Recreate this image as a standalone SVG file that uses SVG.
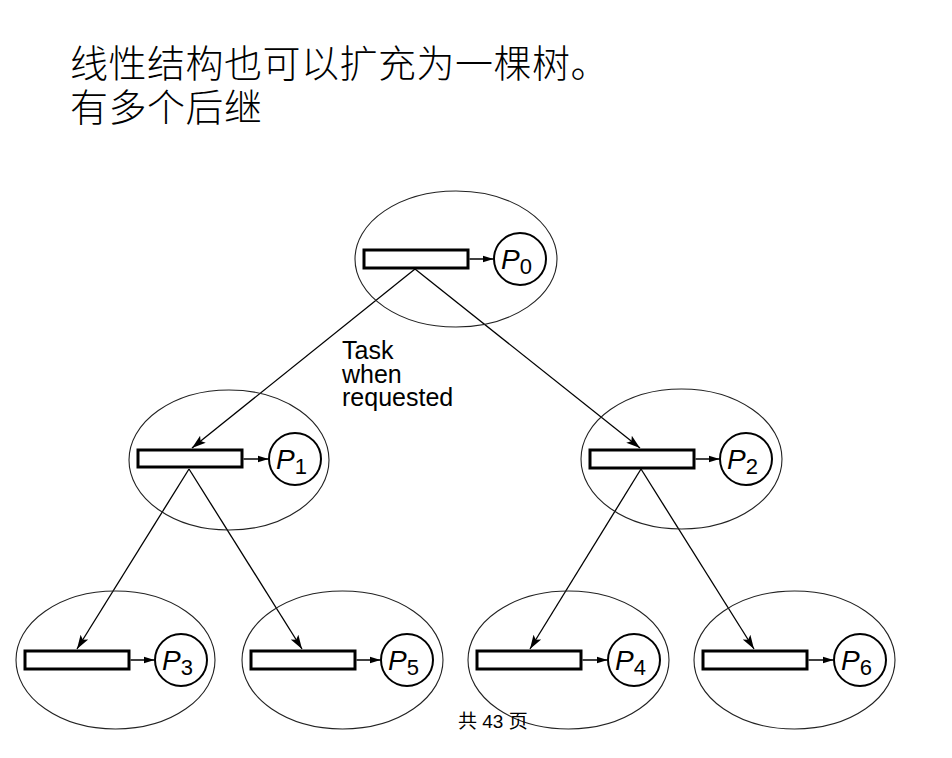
<svg xmlns="http://www.w3.org/2000/svg" width="952" height="758" viewBox="0 0 952 758">
<defs>
<marker id="ah" markerUnits="userSpaceOnUse" markerWidth="16" markerHeight="12" refX="14" refY="6" orient="auto">
<path d="M0,1.5 L14,6 L0,10.5 L3,6 Z" fill="#000"/>
</marker>
<marker id="sh" markerUnits="userSpaceOnUse" markerWidth="12" markerHeight="10" refX="11" refY="5" orient="auto">
<path d="M0,1.5 L11,5 L0,8.5 Z" fill="#000"/>
</marker>
<style>
.ell{fill:none;stroke:#222;stroke-width:1.1}
.box{fill:#fff;stroke:#000;stroke-width:3}
.pc{fill:#fff;stroke:#000;stroke-width:2}
.sa{stroke:#000;stroke-width:1.5;marker-end:url(#sh)}
.lbl{font-family:"Liberation Sans",Arial,sans-serif;font-size:28px;fill:#000}
.lbl .p{font-style:italic}
.lbl .s{font-size:22px}
.edge{stroke:#000;stroke-width:1.3;fill:none;marker-end:url(#ah)}
.cn{font-family:"Noto Sans CJK SC",sans-serif;font-size:38px;font-weight:300;letter-spacing:0.5px;fill:#000}
.tk{font-family:"Liberation Sans",Arial,sans-serif;font-size:25px;fill:#000}
</style>
</defs>
<rect width="952" height="758" fill="#fff"/>
<text class="cn" x="70" y="77">线性结构也可以扩充为一棵树。</text>
<text class="cn" x="70" y="121">有多个后继</text>

<g id="connectors">
<line class="edge" x1="415" y1="269" x2="192" y2="448"/>
<line class="edge" x1="415" y1="269" x2="640" y2="448"/>
<line class="edge" x1="189" y1="469" x2="77" y2="649"/>
<line class="edge" x1="189" y1="469" x2="302" y2="649"/>
<line class="edge" x1="641" y1="469" x2="530" y2="649"/>
<line class="edge" x1="641" y1="469" x2="754" y2="649"/>
</g>

<text class="tk" x="342" y="359">Task</text>
<text class="tk" x="342" y="383">when</text>
<text class="tk" x="342" y="406">requested</text>

<g id="node-p0">
<ellipse class="ell" cx="456" cy="259" rx="101" ry="68"/>
<rect class="box" x="364" y="250" width="104" height="18"/>
<line class="sa" x1="469.5" y1="259" x2="493.5" y2="259"/>
<circle class="pc" cx="520" cy="259" r="26"/>
<text class="lbl" x="501" y="269"><tspan class="p">P</tspan><tspan class="s" dy="5">0</tspan></text>
</g>

<g id="node-p1">
<ellipse class="ell" cx="229" cy="460" rx="100" ry="70"/>
<rect class="box" x="138" y="450" width="104" height="17"/>
<line class="sa" x1="243.5" y1="459" x2="268.5" y2="459"/>
<circle class="pc" cx="295" cy="459" r="26"/>
<text class="lbl" x="276" y="469"><tspan class="p">P</tspan><tspan class="s" dy="5">1</tspan></text>
</g>

<g id="node-p2">
<ellipse class="ell" cx="681.5" cy="459" rx="100.5" ry="70"/>
<rect class="box" x="590" y="450" width="104" height="18"/>
<line class="sa" x1="695.5" y1="459" x2="719.5" y2="459"/>
<circle class="pc" cx="746" cy="459" r="26"/>
<text class="lbl" x="727" y="469"><tspan class="p">P</tspan><tspan class="s" dy="5">2</tspan></text>
</g>

<g id="node-p3">
<ellipse class="ell" cx="115.5" cy="660" rx="99.5" ry="69"/>
<rect class="box" x="25" y="651" width="104" height="18"/>
<line class="sa" x1="130.5" y1="660" x2="154.5" y2="660"/>
<circle class="pc" cx="181" cy="660" r="26"/>
<text class="lbl" x="162" y="670"><tspan class="p">P</tspan><tspan class="s" dy="5">3</tspan></text>
</g>

<g id="node-p5">
<ellipse class="ell" cx="342.5" cy="660" rx="100.5" ry="69"/>
<rect class="box" x="251" y="651" width="104" height="18"/>
<line class="sa" x1="356.5" y1="660" x2="380.5" y2="660"/>
<circle class="pc" cx="407" cy="660" r="26"/>
<text class="lbl" x="388" y="670"><tspan class="p">P</tspan><tspan class="s" dy="5">5</tspan></text>
</g>

<g id="node-p4">
<ellipse class="ell" cx="568.5" cy="660" rx="100.5" ry="69"/>
<rect class="box" x="477" y="651" width="104" height="18"/>
<line class="sa" x1="582.5" y1="660" x2="607.5" y2="660"/>
<circle class="pc" cx="634" cy="660" r="26"/>
<text class="lbl" x="615" y="670"><tspan class="p">P</tspan><tspan class="s" dy="5">4</tspan></text>
</g>

<g id="node-p6">
<ellipse class="ell" cx="794.5" cy="660" rx="100.5" ry="69"/>
<rect class="box" x="703" y="651" width="104" height="18"/>
<line class="sa" x1="808.5" y1="660" x2="833.5" y2="660"/>
<circle class="pc" cx="860" cy="660" r="26"/>
<text class="lbl" x="841" y="670"><tspan class="p">P</tspan><tspan class="s" dy="5">6</tspan></text>
</g>

<text x="458" y="728" font-family="'Liberation Sans','Noto Sans CJK SC',sans-serif" font-size="19" fill="#000">共 43 页</text>
</svg>
